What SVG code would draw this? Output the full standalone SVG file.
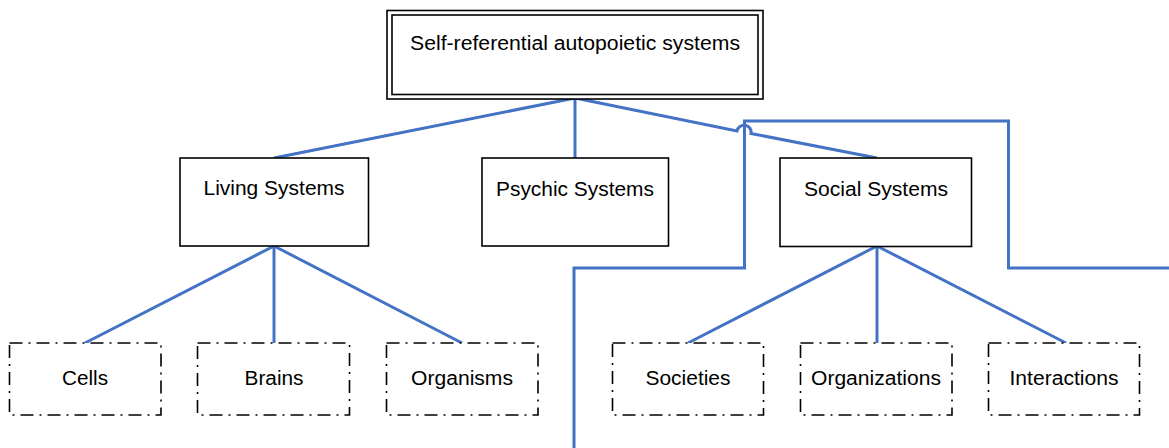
<svg xmlns="http://www.w3.org/2000/svg" width="1169" height="448" viewBox="0 0 1169 448">
  <style>
    .box { fill: #ffffff; stroke: #000000; stroke-width: 1.6; }
    .leaf { fill: #ffffff; stroke: #000000; stroke-width: 1.6; stroke-dasharray: 13 6 2 6; }
    .label { font-family: "Liberation Sans", Arial, sans-serif; font-size: 20px; fill: #000000; text-anchor: middle; }
    .link { fill: none; stroke: #4472C4; stroke-width: 3; }
  </style>
  <rect width="1169" height="448" fill="#ffffff"/>

  <!-- connectors -->
  <g id="connectors">
    <!-- root to second level -->
    <line class="link" x1="575" y1="98" x2="274" y2="158"/>
    <line class="link" x1="575" y1="98" x2="575" y2="158"/>
    <path class="link" d="M575 98 L737 131 A 6.5 6.5 0 0 1 751 133.5 L877 158"/>
    <!-- living systems to leaves -->
    <line class="link" x1="274" y1="246" x2="85" y2="343"/>
    <line class="link" x1="274" y1="246" x2="274" y2="343"/>
    <line class="link" x1="274" y1="246" x2="462" y2="343"/>
    <!-- social systems to leaves -->
    <line class="link" x1="877" y1="246" x2="688" y2="343"/>
    <line class="link" x1="877" y1="246" x2="877" y2="343"/>
    <line class="link" x1="877" y1="246" x2="1066" y2="343"/>
    <!-- boundary line -->
    <polyline class="link" points="574,448 574,268 744.5,268 744.5,121 1008.5,121 1008.5,268 1169,268"/>
  </g>

  <!-- root -->
  <g id="root">
    <rect class="box" x="387" y="10.5" width="376" height="88.5"/>
    <rect class="box" x="392" y="15" width="366" height="79.5"/>
    <text class="label" x="575" y="50" textLength="330" lengthAdjust="spacingAndGlyphs">Self-referential autopoietic systems</text>
  </g>

  <!-- second level -->
  <g id="living">
    <rect class="box" x="180" y="158" width="188.5" height="88"/>
    <text class="label" x="274" y="195" textLength="141" lengthAdjust="spacingAndGlyphs">Living Systems</text>
  </g>
  <g id="psychic">
    <rect class="box" x="482" y="158" width="186.5" height="88"/>
    <text class="label" x="575" y="196" textLength="158" lengthAdjust="spacingAndGlyphs">Psychic Systems</text>
  </g>
  <g id="social">
    <rect class="box" x="780" y="158" width="191.5" height="88.5"/>
    <text class="label" x="876" y="196" textLength="144" lengthAdjust="spacingAndGlyphs">Social Systems</text>
  </g>

  <!-- leaves -->
  <g id="cells">
    <rect class="leaf" x="9.5" y="343" width="151.5" height="72"/>
    <text class="label" x="85" y="385" textLength="46" lengthAdjust="spacingAndGlyphs">Cells</text>
  </g>
  <g id="brains">
    <rect class="leaf" x="197.5" y="343" width="152" height="72"/>
    <text class="label" x="274" y="385" textLength="59" lengthAdjust="spacingAndGlyphs">Brains</text>
  </g>
  <g id="organisms">
    <rect class="leaf" x="386.5" y="343" width="151.5" height="72"/>
    <text class="label" x="462" y="385" textLength="102" lengthAdjust="spacingAndGlyphs">Organisms</text>
  </g>
  <g id="societies">
    <rect class="leaf" x="612.5" y="343" width="151" height="72"/>
    <text class="label" x="688" y="385" textLength="85" lengthAdjust="spacingAndGlyphs">Societies</text>
  </g>
  <g id="organizations">
    <rect class="leaf" x="800.5" y="343" width="151.5" height="72"/>
    <text class="label" x="876" y="385" textLength="130" lengthAdjust="spacingAndGlyphs">Organizations</text>
  </g>
  <g id="interactions">
    <rect class="leaf" x="988.5" y="343" width="151" height="72"/>
    <text class="label" x="1064" y="385" textLength="109" lengthAdjust="spacingAndGlyphs">Interactions</text>
  </g>
</svg>
